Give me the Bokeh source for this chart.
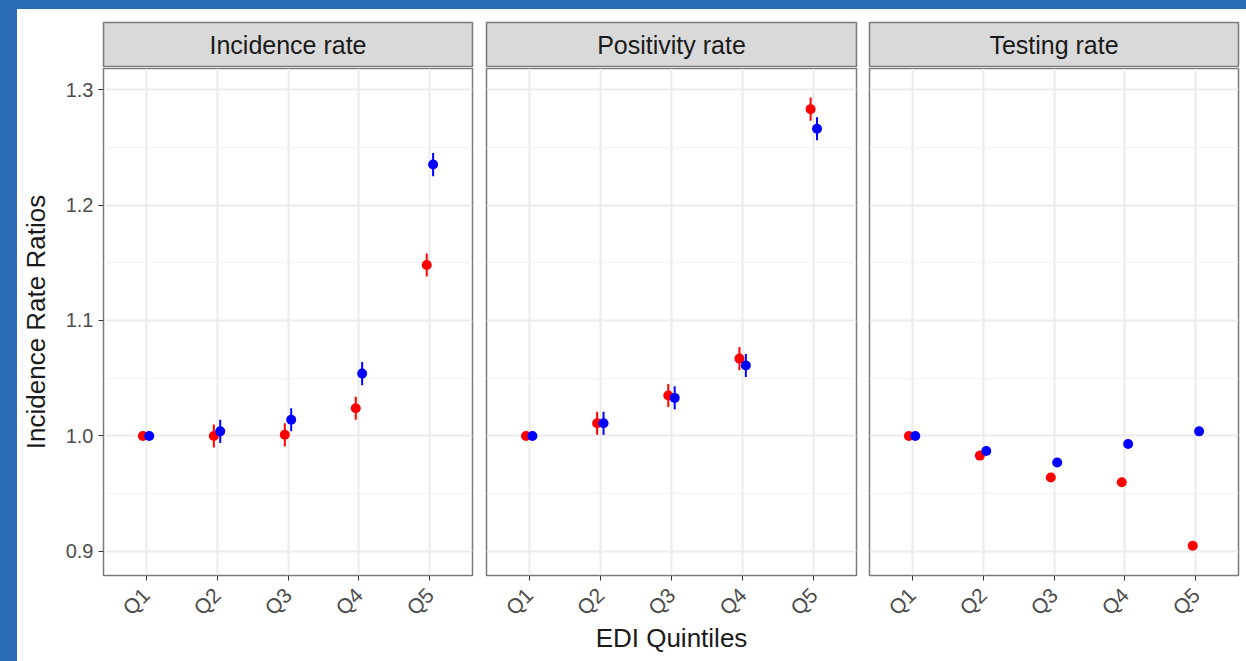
import numpy as np
from bokeh.plotting import figure
from bokeh.models import (Range1d, FixedTicker, PrintfTickFormatter, Label,
                          ColumnDataSource, Grid)
from bokeh.layouts import row, column
from bokeh.embed import file_html
from bokeh.resources import INLINE
from bokeh.core.templates import FILE

# ---------------- data ----------------
quintiles = ["Q1", "Q2", "Q3", "Q4", "Q5"]
panel_titles = ["Incidence rate", "Positivity rate", "Testing rate"]
y_label = "Incidence Rate Ratios"
x_label = "EDI Quintiles"
y_major = [0.9, 1.0, 1.1, 1.2, 1.3]
y_minor = [0.95, 1.05, 1.15, 1.25]

# red series
inc_red = [1.000, 1.000, 1.001, 1.024, 1.148]
inc_red_lo = [1.000, 0.990, 0.991, 1.014, 1.138]
inc_red_hi = [1.000, 1.010, 1.011, 1.034, 1.158]
pos_red = [1.000, 1.011, 1.035, 1.067, 1.283]
pos_red_lo = [1.000, 1.001, 1.025, 1.057, 1.273]
pos_red_hi = [1.000, 1.021, 1.045, 1.077, 1.293]
tst_red = [1.000, 0.983, 0.964, 0.960, 0.905]
tst_red_lo = [1.000, 0.981, 0.962, 0.958, 0.903]
tst_red_hi = [1.000, 0.985, 0.966, 0.962, 0.907]

# blue series
inc_blue = [1.000, 1.004, 1.014, 1.054, 1.235]
inc_blue_lo = [1.000, 0.994, 1.004, 1.044, 1.225]
inc_blue_hi = [1.000, 1.014, 1.024, 1.064, 1.245]
pos_blue = [1.000, 1.011, 1.033, 1.061, 1.266]
pos_blue_lo = [1.000, 1.001, 1.023, 1.051, 1.256]
pos_blue_hi = [1.000, 1.021, 1.043, 1.071, 1.276]
tst_blue = [1.000, 0.987, 0.977, 0.993, 1.004]
tst_blue_lo = [1.000, 0.985, 0.975, 0.991, 1.002]
tst_blue_hi = [1.000, 0.989, 0.979, 0.995, 1.006]

red_sets = [(inc_red, inc_red_lo, inc_red_hi), (pos_red, pos_red_lo, pos_red_hi),
            (tst_red, tst_red_lo, tst_red_hi)]
blue_sets = [(inc_blue, inc_blue_lo, inc_blue_hi), (pos_blue, pos_blue_lo, pos_blue_hi),
             (tst_blue, tst_blue_lo, tst_blue_hi)]

RED = "#ff0000"
BLUE = "#0000ff"
FONT = "Liberation Sans"
BORDER = "#7a7a7a"
GRID = "#ebebeb"
MINOR_GRID = "#f2f2f2"
DODGE = 0.045
WHITE_BG = {"background-color": "white"}

positions = np.arange(1, len(quintiles) + 1)
label_map = {int(k): q for k, q in zip(positions, quintiles)}

lefts = [86, 7, 7]
rights = [7, 6, 8]
frame_ws = [369, 370, 369]


def make_panel(i):
    left, right, fw = lefts[i], rights[i], frame_ws[i]
    width = left + fw + right

    # strip header
    strip = figure(width=width, height=58, x_range=Range1d(0, 1), y_range=Range1d(0, 1),
                   x_axis_location=None, y_axis_location=None, toolbar_location=None,
                   output_backend="svg", title=None,
                   min_border_left=left, min_border_right=right,
                   min_border_top=13, min_border_bottom=0)
    strip.grid.visible = False
    strip.background_fill_color = "#d9d9d9"
    strip.border_fill_color = "white"
    strip.outline_line_color = BORDER
    strip.outline_line_width = 1.5
    strip.add_layout(Label(x=0.5, y=0.5, text=panel_titles[i], text_align="center",
                           text_baseline="middle", text_font_size="25px",
                           text_font=FONT, text_color="#1a1a1a"))

    p = figure(width=width, height=594, x_range=Range1d(0.4, 5.6),
               y_range=Range1d(0.8792, 1.3182), title=None,
               toolbar_location=None, output_backend="svg",
               y_axis_location="left" if i == 0 else None,
               min_border_left=left, min_border_right=right,
               min_border_top=1, min_border_bottom=86)
    p.center = [r for r in p.center if not isinstance(r, Grid)]
    p.background_fill_color = "white"
    p.border_fill_color = "white"
    p.outline_line_color = BORDER
    p.outline_line_width = 1.5

    xg = Grid(dimension=0, ticker=FixedTicker(ticks=list(positions)),
              grid_line_color=GRID, grid_line_width=2)
    yg = Grid(dimension=1, ticker=FixedTicker(ticks=y_major, minor_ticks=y_minor),
              grid_line_color=GRID, grid_line_width=2,
              minor_grid_line_color=MINOR_GRID, minor_grid_line_width=1)
    p.add_layout(xg, "center")
    p.add_layout(yg, "center")

    # x axis
    xa = p.xaxis[0]
    xa.ticker = FixedTicker(ticks=list(positions))
    xa.major_label_overrides = label_map
    xa.major_label_orientation = np.pi / 4
    xa.major_label_text_font = FONT
    xa.major_label_text_font_size = "21px"
    xa.major_label_text_color = "#4d4d4d"
    xa.major_label_standoff = 11
    xa.axis_line_color = None
    xa.major_tick_line_color = "#333333"
    xa.major_tick_in = 0
    xa.major_tick_out = 5
    xa.minor_tick_line_color = None
    if i == 1:
        xa.axis_label = x_label
        xa.axis_label_text_font = FONT
        xa.axis_label_text_font_size = "26px"
        xa.axis_label_text_font_style = "normal"
        xa.axis_label_text_color = "#1a1a1a"
        xa.axis_label_standoff = -8

    if i == 0:
        ya = p.yaxis[0]
        ya.ticker = FixedTicker(ticks=y_major)
        ya.formatter = PrintfTickFormatter(format="%.1f")
        ya.major_label_text_font = FONT
        ya.major_label_text_font_size = "20px"
        ya.major_label_text_color = "#4d4d4d"
        ya.major_label_standoff = 5
        ya.axis_line_color = None
        ya.major_tick_line_color = "#333333"
        ya.major_tick_in = 0
        ya.major_tick_out = 5
        ya.minor_tick_line_color = None
        ya.axis_label = y_label
        ya.axis_label_text_font = FONT
        ya.axis_label_text_font_size = "26px"
        ya.axis_label_text_font_style = "normal"
        ya.axis_label_text_color = "#1a1a1a"
        ya.axis_label_standoff = 12

    for sets, color, off in ((red_sets, RED, -DODGE), (blue_sets, BLUE, DODGE)):
        est, lo, hi = sets[i]
        src = ColumnDataSource(dict(x=positions + off, y=est, lo=lo, hi=hi))
        p.segment(x0="x", y0="lo", x1="x", y1="hi", source=src,
                  line_color=color, line_width=2)
        p.scatter(x="x", y="y", source=src, size=10, fill_color=color,
                  line_color=None)

    return column(strip, p, spacing=0, styles=WHITE_BG)


layout = row([make_panel(i) for i in range(3)], spacing=0, styles=WHITE_BG)

TEMPLATE = FILE.environment.from_string(
    '{% extends "file.html" %}'
    '{% block postamble %}<style>'
    'html, body { margin: 0 !important; background: #2b6cb6 !important; overflow: hidden; }'
    'body { padding: 9px 0 0 17px !important; box-sizing: border-box; }'
    '</style>{% endblock %}'
)

html = file_html(layout, INLINE, title="EDI Quintiles", template=TEMPLATE)
open("out.html", "w").write(html)
